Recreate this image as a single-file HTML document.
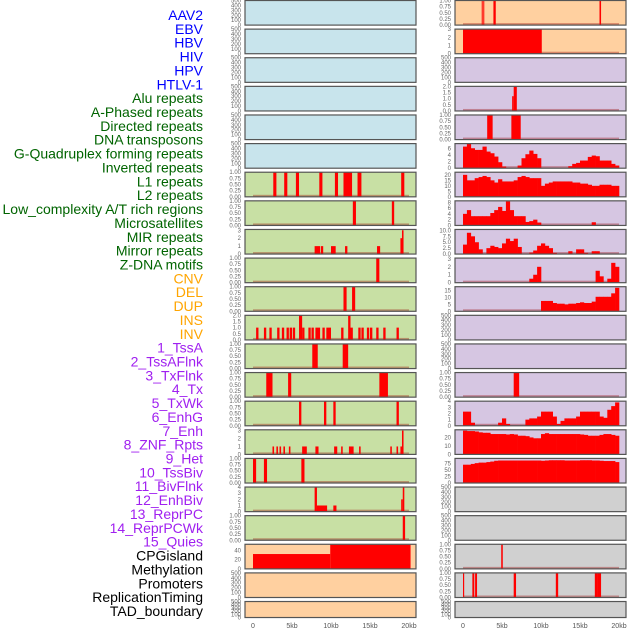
<!DOCTYPE html>
<html><head><meta charset="utf-8"><style>
html,body{margin:0;padding:0;background:#fff;}
svg{display:block;font-family:"Liberation Sans",sans-serif;}
</style></head><body>
<svg id="chart" width="630" height="630" viewBox="0 0 630 630"></svg>
<script>
// ---------- data ----------
const trackLabels=["AAV2","EBV","HBV","HIV","HPV","HTLV-1","Alu repeats","A-Phased repeats","Directed repeats","DNA transposons","G-Quadruplex forming repeats","Inverted repeats","L1 repeats","L2 repeats","Low_complexity A/T rich regions","Microsatellites","MIR repeats","Mirror repeats","Z-DNA motifs","CNV","DEL","DUP","INS","INV","1_TssA","2_TssAFlnk","3_TxFlnk","4_Tx","5_TxWk","6_EnhG","7_Enh","8_ZNF_Rpts","9_Het","10_TssBiv","11_BivFlnk","12_EnhBiv","13_ReprPC","14_ReprPCWk","15_Quies","CPGisland","Methylation","Promoters","ReplicationTiming","TAD_boundary"];
const labelGroups=[6,13,5,15,5];
const groupColors=["#0000ff","#006400","#ffa500","#a020f0","#000000"];
const xTicks=[0,5,10,15,20];
const xTickLabels=["0","5kb","10kb","15kb","20kb"];
const emptyTicks=[0,100,200,300,400,500];
const binTicks=[0,0.25,0.5,0.75,1];

// left column interval tracks [startKb,endKb,value]
const L6=[[2.6,3.0,1],[4.0,4.4,1],[5.5,5.9,1],[8.5,8.9,1],[10.5,10.9,1],[11.6,12.7,1],[13.4,13.9,1],[19.0,19.4,1]];
const L7=[[12.8,13.2,1],[17.8,18.1,1]];
const L8=[[7.9,8.6,1],[8.7,9.0,1],[10.0,10.6,1],[11.8,12.1,1],[15.9,16.3,1],[18.9,19.2,2],[19.1,19.3,3]];
const L9=[[15.8,16.2,1]];
const L10=[[11.6,12.0,1],[12.7,13.1,1]];
const L11=[[0.4,0.7,1],[1.4,1.7,1],[2.1,2.4,1],[3.1,3.4,1],[3.7,4.0,1],[4.3,4.6,1],[4.7,5.0,1],[5.1,5.4,1],[5.9,6.3,2],[6.3,6.6,1],[7.1,7.4,1],[7.5,7.8,1],[8.0,8.6,1],[8.9,9.2,1],[9.4,10.0,1],[11.3,11.6,1],[12.2,12.5,2],[12.5,12.8,1],[13.5,13.8,1],[13.9,14.2,1],[14.6,14.9,1],[15.0,15.3,1],[15.8,16.1,1],[16.7,17.0,1],[18.4,18.7,1]];
const L12=[[7.6,8.3,1],[11.5,12.2,1]];
const L13=[[1.7,2.5,1],[4.5,4.9,1],[16.2,17.3,1]];
const L14=[[5.9,6.2,1],[9.1,9.4,1],[10.3,10.6,1],[18.4,18.7,1]];
const L15=[[2.5,2.7,1],[3.0,3.2,1],[3.4,3.6,1],[3.9,4.1,1],[4.6,4.8,1],[6.3,6.9,1],[8.0,8.4,1],[10.4,10.8,1],[11.3,11.5,1],[12.3,12.9,1],[13.6,13.8,1],[17.6,17.8,1],[18.4,18.6,1],[18.9,19.1,1],[19.1,19.3,3]];
const L16=[[0,0.4,1],[1.4,1.8,1],[6.2,6.6,1]];
const L17=[[7.9,8.2,4],[8.2,9.5,1],[10.3,10.7,1],[19.0,19.2,2],[19.2,19.4,4]];
const L18=[[19.2,19.5,1]];
const L19=[[0,9.9,32],[9.9,20.2,52]];

// right column interval tracks
const R0=[[2.4,2.5,1],[2.6,2.7,1],[3.9,4.2,1],[17.5,17.7,1]];
const R1=[[0,10.1,3]];
const R3=[[6.3,6.5,1.2],[6.5,6.9,2]];
const R4=[[3.1,3.8,1],[6.2,7.4,1]];
const R13=[[6.5,7.2,1]];
const R19=[[4.9,5.1,1]];
const R20=[[0,0.15,1],[1.2,1.45,1],[1.55,1.8,1],[6.5,6.8,1],[11.9,12.2,1],[16.9,17.3,1],[17.3,17.7,1]];

// right column binned signal tracks (0.5kb bins, 0..20kb)
const R5bins=[6.5,7.3,6,5.5,5.5,6.5,5,4.5,3.5,1.8,0.5,0,0,0,0.8,3,4.2,5.3,4.3,3,0,0,0,0,0,0,0,0.6,1.3,1.6,2.3,2.3,3.4,3.8,3.6,2.3,2.3,2.3,1.3,0.8];
const R6bins=[20,15,15,17,18,19,18,15,13,16,14,14,14,15,18,19,18,17,17,17,10,12,13,14,14,14,14,14,13,13,12,12,11,10,10,11,11,11,10,10];
const R7bins=[4,5.3,3.2,3.2,3.2,3.2,3.2,4.3,5.3,6.4,5,8.3,5.3,3.2,3.2,3.2,1.2,1.5,2,1,0,0,0,0,0,0,0,0,0,0,0,0,0,1.1,0,0,0,0,0,0];
const R8bins=[4,9,7.5,5,2,0,2.5,3.5,3,2.5,4.5,6.5,5.5,6.5,3,0,0,0.6,1.5,3.5,4.5,3.5,2.5,0.5,0,0,0,1.2,0,2,2,0.5,0,1.2,1.2,0,0,0,0,0];
const R9bins=[0,0,0,0,0,0,0,0,0,0,0,0,0,0,0,0,0,0.5,1,2,0,0,0,0,0,0,0,0,0,0,0,0,0,0,1.5,0.8,0,0.5,2.5,2];
const R10bins=[0,0,0,0,0,0,0,0,0,0,0,0,0,0,0,0,0,0,0,0,7.5,7.5,7.5,6,5.5,5.5,5,5.5,5.5,6,6.5,6,6,7,10.5,10.5,10.5,10.5,13,17];
const R14bins=[2.3,2.3,0.5,0,0,0,0,0,0,0.5,1.2,0.3,0,0,0,0,1,1.2,1.2,1.5,2.3,2.3,2.3,1.5,0.3,0.8,1.2,1.2,1.2,1.5,2.3,2.3,2.3,2.3,2.3,1.5,1.3,2.6,3.2,3.8];
const R15bins=[28,27.5,27.5,27,26,25.5,25.5,24,24,24,24,23.5,24,23.5,22,22,21.5,20,19,19,24,25,24,24,24,24,24,24,24,24,23.5,23,22,22,22,23,24,24,23,22];
const R16bins=[70,70,73,76,78,78,80,82,85,86,86,86,86,86,86,86,86,86,86,86,85,86,87,87,87,87,86,86,86,86,87,87,87,86,86,85,84,84,84,80];

const BLUE="#c8e4ec",GREEN="#c8e0a4",ORANGE="#ffd0a0",PURPLE="#d6c6e2",GREY="#d0d0d0";
const B={ymax:1,ticks:binTicks,fmt:2};
const leftPanels=[
 {bg:BLUE},{bg:BLUE},{bg:BLUE},{bg:BLUE},{bg:BLUE},{bg:BLUE},
 {bg:GREEN,iv:L6,...B},{bg:GREEN,iv:L7,...B},
 {bg:GREEN,iv:L8,ymax:3.1,ticks:[0,1,2,3],fmt:0},
 {bg:GREEN,iv:L9,...B},{bg:GREEN,iv:L10,...B},
 {bg:GREEN,iv:L11,ymax:2,ticks:[0,0.5,1,1.5,2],fmt:1},
 {bg:GREEN,iv:L12,...B},{bg:GREEN,iv:L13,...B},{bg:GREEN,iv:L14,...B},
 {bg:GREEN,iv:L15,ymax:3.1,ticks:[0,1,2,3],fmt:0},
 {bg:GREEN,iv:L16,...B},
 {bg:GREEN,iv:L17,ymax:4,ticks:[0,1,2,3,4],fmt:0},
 {bg:GREEN,iv:L18,...B},
 {bg:ORANGE,iv:L19,ymax:53,ticks:[0,20,40],fmt:0,nobase:true},
 {bg:ORANGE},{bg:ORANGE,small:true}
];
const rightPanels=[
 {bg:ORANGE,iv:R0,...B},{bg:ORANGE,iv:R1,ymax:3,ticks:[0,1,2,3],fmt:0},
 {bg:PURPLE},{bg:PURPLE,iv:R3,ymax:2,ticks:[0,0.5,1,1.5,2],fmt:1},
 {bg:PURPLE,iv:R4,...B},
 {bg:PURPLE,bins:R5bins,ymax:7.4,ticks:[0,2,4,6],fmt:0},
 {bg:PURPLE,bins:R6bins,ymax:22.4,ticks:[0,5,10,15,20],fmt:0},
 {bg:PURPLE,bins:R7bins,ymax:8.5,ticks:[0,2,4,6,8],fmt:0},
 {bg:PURPLE,bins:R8bins,ymax:10.4,ticks:[0,2.5,5,7.5,10],fmt:1},
 {bg:PURPLE,bins:R9bins,ymax:3.1,ticks:[0,1,2,3],fmt:0},
 {bg:PURPLE,bins:R10bins,ymax:17.8,ticks:[0,5,10,15],fmt:0},
 {bg:PURPLE},{bg:PURPLE},
 {bg:PURPLE,iv:R13,...B},
 {bg:PURPLE,bins:R14bins,ymax:4,ticks:[0,1,2,3,4],fmt:0},
 {bg:PURPLE,bins:R15bins,ymax:29,ticks:[0,10,20],fmt:0},
 {bg:PURPLE,bins:R16bins,ymax:94,ticks:[0,25,50,75],fmt:0},
 {bg:GREY},{bg:GREY},{bg:GREY,iv:R19,...B},{bg:GREY,iv:R20,...B},{bg:GREY,small:true}
];

// ---------- drawing ----------
const NS="http://www.w3.org/2000/svg";
const svg=document.getElementById("chart");
function mk(tag,attrs,parent){const e=document.createElementNS(NS,tag);for(const k in attrs)e.setAttribute(k,attrs[k]);(parent||svg).appendChild(e);return e;}
const PANEL_H=24.6,STEP=28.62;
const cols=[{x0:245,x1:416,zero:253,panels:leftPanels,name:"left"},{x0:455,x1:626,zero:463,panels:rightPanels,name:"right"}];
const KB=7.8;

// labels
let li=0;
labelGroups.forEach((n,g)=>{for(let k=0;k<n;k++){
  const t=mk("text",{x:203,y:15+li*13.86+5,"text-anchor":"end","font-size":"14",fill:groupColors[g]});
  t.textContent=trackLabels[li];
  
  
  li++;}});

cols.forEach(col=>{
  const xs=kb=>col.zero+kb*KB;
  col.panels.forEach((p,i)=>{
    const top=i*STEP+0.5;
    const h=p.small?16:PANEL_H;
    const bottom=top+h;
    const g=mk("g",{});
    
    
    const bg=mk("rect",{x:col.x0,y:top,width:col.x1-col.x0,height:h,fill:p.bg},g);
    
    
    const ymax=p.ymax||500, ticks=p.ticks||emptyTicks, fmt=p.fmt||0;
    const ys=v=>bottom-v/ymax*h;
    const empty=!p.iv&&!p.bins;
    if(!empty&&!p.nobase){
      const bl=mk("rect",{x:xs(0),y:bottom-2,width:xs(20)-xs(0),height:2,fill:"rgba(150,0,0,0.35)"},g);
      
      
    }
    if(p.iv){p.iv.forEach(d=>{
      const r=mk("rect",{x:xs(d[0]),y:ys(d[2]),width:Math.max(1,xs(d[1])-xs(d[0])),height:bottom-ys(d[2]),fill:"#ff0000"},g);
      
      
    });}
    if(p.bins){p.bins.forEach((v,k)=>{if(v<=0)return;
      const r=mk("rect",{x:xs(k*0.5),y:ys(v),width:xs(0.5)-xs(0)+0.3,height:bottom-ys(v),fill:"#ff0000"},g);
      
      
    });}
    const fr=mk("rect",{x:col.x0,y:top,width:col.x1-col.x0,height:h,fill:"none",stroke:"#555", "stroke-width":1.2},g);
    
    
    ticks.forEach(v=>{
      const t=mk("text",{x:col.x0-4,y:ys(v)+2,"text-anchor":"end","font-size":"6",fill:"#666"},g);
      t.textContent=v.toFixed(fmt);
      
      
    });
  });
  xTicks.forEach((v,k)=>{
    const t=mk("text",{x:xs(v),y:628,"text-anchor":"middle","font-size":"7",fill:"#555"});
    t.textContent=xTickLabels[k];
    
    
  });
});
</script>
</body></html>
